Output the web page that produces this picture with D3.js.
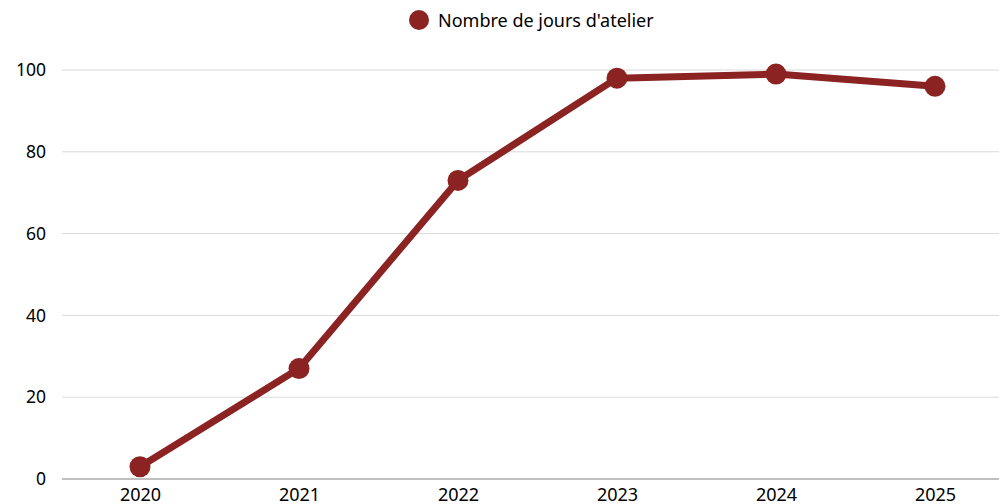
<!DOCTYPE html>
<html><head><meta charset="utf-8">
<script src="https://cdn.jsdelivr.net/npm/d3@7"></script>
<style>body{margin:0;background:#fff}svg{display:block;font-family:"Noto Sans",sans-serif}</style>
</head><body><svg id="c" width="999" height="504"></svg>
<script>
const years = ["2020","2021","2022","2023","2024","2025"];
const values = [3, 27, 73, 98, 99, 96];
const yTicks = [0, 20, 40, 60, 80, 100];
const seriesName = "Nombre de jours d'atelier";
const color = "#8b2323";

const svg = d3.select("#c");
const x = d3.scalePoint().domain(years).range([140, 935]);
const y = d3.scaleLinear().domain([0, 100]).range([479, 70]);

const grid = svg.append("g");
grid.selectAll("line").data(yTicks).join("line")
  .attr("x1", 62).attr("x2", 999)
  .attr("y1", d => y(d)).attr("y2", d => y(d))
  .attr("stroke", d => d === 0 ? "#aaaaaa" : "#d9d9d9")
  .attr("stroke-width", d => d === 0 ? 1.5 : 1);

const yAxis = d3.axisLeft(y).tickValues(yTicks).tickSize(0).tickPadding(0);
const ya = svg.append("g").attr("transform", "translate(46,0)").call(yAxis);
ya.select(".domain").remove();
ya.selectAll("text").attr("font-size", 17.5).attr("fill", "#000").attr("font-family", "Noto Sans");

const xAxis = d3.axisBottom(x).tickSize(0).tickPadding(0);
const xa = svg.append("g").attr("transform", "translate(0,488)").call(xAxis);
xa.select(".domain").remove();
xa.selectAll("text").attr("font-size", 18).attr("fill", "#000").attr("font-family", "Noto Sans");

const line = d3.line().x((d, i) => x(years[i])).y(d => y(d));
svg.append("path").datum(values).attr("d", line)
  .attr("fill", "none").attr("stroke", color).attr("stroke-width", 7)
  .attr("stroke-linejoin", "round");
svg.append("g").selectAll("circle").data(values).join("circle")
  .attr("cx", (d, i) => x(years[i])).attr("cy", d => y(d)).attr("r", 10.5)
  .attr("fill", color);

const lg = svg.append("g");
lg.append("circle").attr("cx", 419).attr("cy", 20).attr("r", 10).attr("fill", color);
lg.append("text").attr("x", 438).attr("y", 26.5).text(seriesName)
  .attr("font-size", 18).attr("fill", "#000").attr("font-family", "Noto Sans");
</script></body></html>
